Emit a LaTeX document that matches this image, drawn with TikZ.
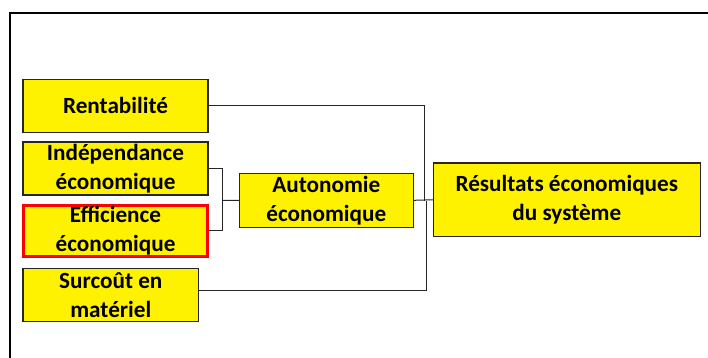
\documentclass[tikz,border=0pt]{standalone}
\usepackage{fontspec}
\setmainfont{Carlito}
\begin{document}
\begin{tikzpicture}[x=1pt,y=-1pt,
  factor/.style={draw=black!85, line width=1.1pt, fill=yellow, align=center,
    inner sep=0pt, font=\bfseries\fontsize{23.2}{29}\selectfont},
  hilite/.style={factor, draw=red, line width=3pt},
  link/.style={draw=black!85, line width=1pt}]
\useasboundingbox (0,0) rectangle (708,358);
% frame
\draw[line width=2.2pt] (10,358) -- (10,13) -- (708,13);
% criteria
\node[factor, minimum width=185pt, minimum height=53pt] (rent) at (115.5,105.8) {Rentabilité};
\node[factor, minimum width=185pt, minimum height=53pt] (indep) at (115.5,168.5) {Indépendance\\économique};
\node[hilite, minimum width=184pt, minimum height=51pt] (effic) at (115.5,231) {Efficience\\économique};
\node[factor, minimum width=175.7pt, minimum height=53pt] (surc) at (110.8,295.2) {Surcoût en\\matériel};
\node[factor, minimum width=174pt, minimum height=54pt] (auto) at (326.3,200.3) {Autonomie\\économique};
\node[factor, minimum width=267pt, minimum height=73.7pt] (res) at (566.8,199.8) {Résultats économiques\\du système};
% junctions
\coordinate (jA) at (222.5,200.5);
\coordinate (jB) at (424.5,200.5);
\coordinate (jC) at (426.7,200.5);
% connectors
\draw[link] (indep.east) -| (jA);
\draw[link] ([yshift=1pt]effic.east) -| (jA);
\draw[link] (jA) -- (auto.west);
\draw[link] (rent.east) -| (jB);
\draw[link] ([yshift=5pt]surc.east) -| (jC);
\draw[link] (auto.east) -- (res.west);
\end{tikzpicture}
\end{document}
